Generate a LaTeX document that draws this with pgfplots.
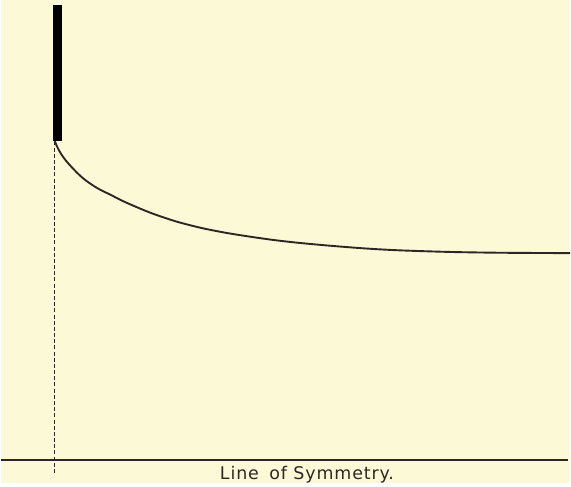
\documentclass[border=0pt]{standalone}
\usepackage{pgfplots}
\pgfplotsset{compat=1.18}
\usepackage{fontspec}
\setmainfont{DejaVu Sans}
\newfontfamily\lsym[LetterSpace=5]{DejaVu Sans}
\definecolor{cream}{HTML}{FCF9D7}
\definecolor{ink}{HTML}{2E2624}
\begin{document}
\begin{tikzpicture}
\begin{axis}[
  scale only axis, width=571pt, height=485pt,
  xmin=0, xmax=571, ymin=0, ymax=485,
  hide axis, clip=false,
]
\fill[cream] (axis cs:0,0) rectangle (axis cs:571,485);
% bar
\addplot[black, line width=9pt] coordinates {(57,480) (57,344)};
% dashed vertical
\addplot[ink, line width=1.2pt, dash pattern=on 4pt off 2.2pt] coordinates {(53.5,343) (53.5,9)};
% curve
\addplot[ink, line width=1.9pt, smooth] coordinates {
(54,343.3) (56,338.5) (58,334.5) (61,329.5) (65,324) (70,318.3) (77,311) (85,304)
(97,296) (110,289.5) (125,282) (150,271.5) (175,263) (200,256.5) (225,251.5)
(250,247.5) (275,244) (300,241.2) (333,238.2) (367,235.6) (400,233.8) (450,232.2)
(500,231.4) (571,231)};
% line of symmetry
\addplot[ink, line width=2pt] coordinates {(0,23) (569,23)};
\node[ink, anchor=base, font=\fontsize{17.5}{19}\selectfont\lsym] at (axis cs:307,4) {Line\hspace{4pt} of Symmetry.};
\end{axis}
\end{tikzpicture}
\end{document}
